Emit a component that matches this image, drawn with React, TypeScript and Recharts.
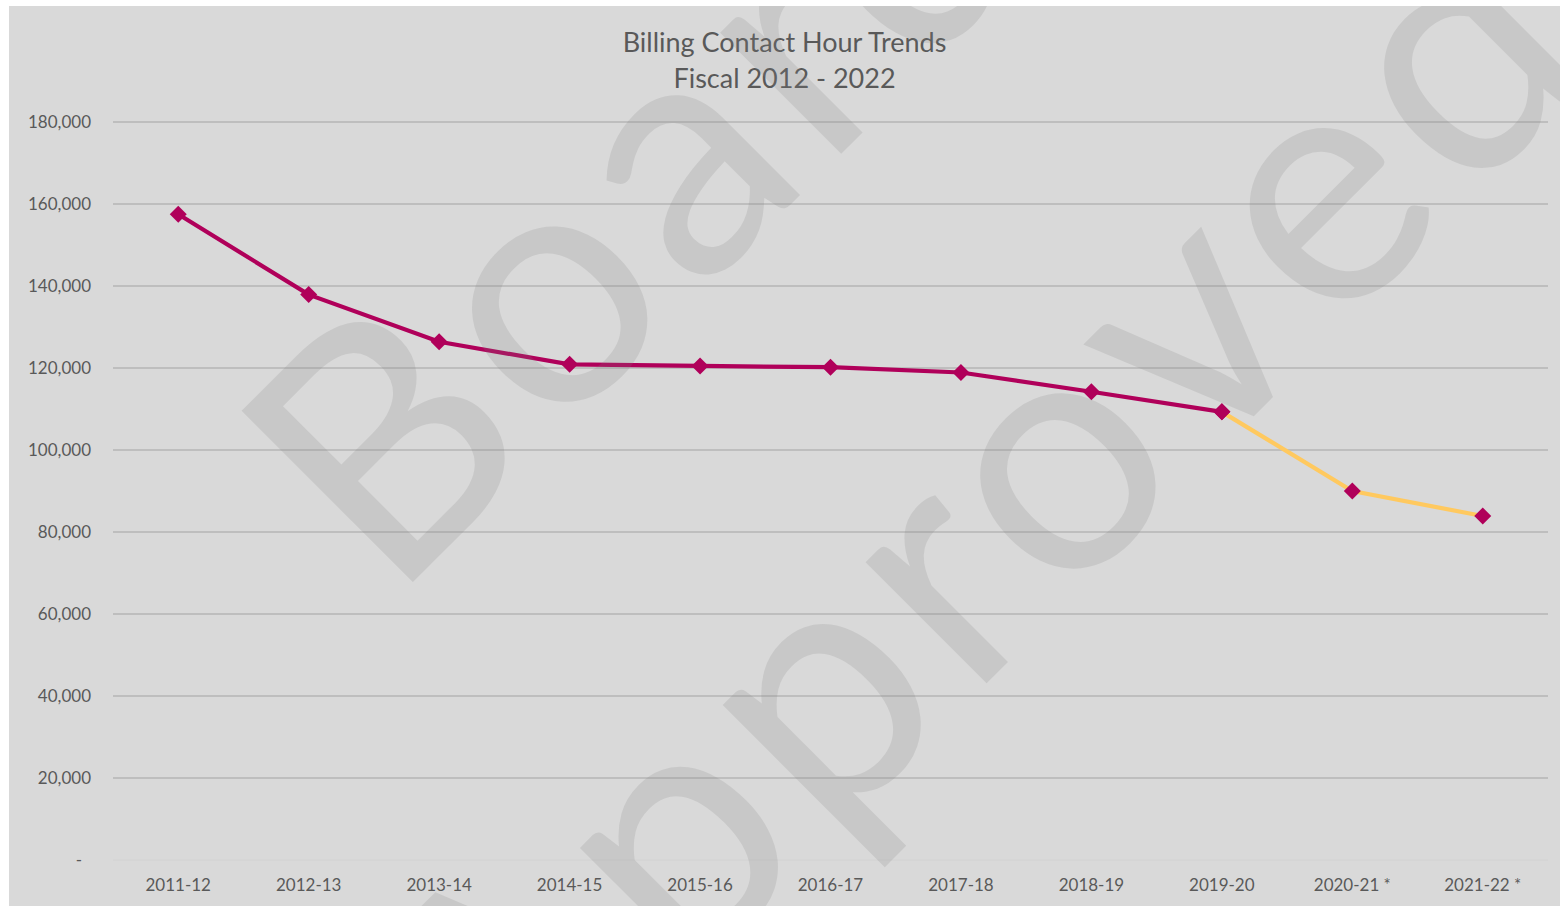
import React from "react";
import { LineChart, Line, XAxis, YAxis, CartesianGrid } from "recharts";

const categories = [
  "2011-12",
  "2012-13",
  "2013-14",
  "2014-15",
  "2015-16",
  "2016-17",
  "2017-18",
  "2018-19",
  "2019-20",
  "2020-21 *",
  "2021-22 *",
];

const actualHours: (number | null)[] = [
  157500, 137900, 126400, 120900, 120500, 120200, 118900, 114200, 109300, null, null,
];

const projectedHours: (number | null)[] = [
  null, null, null, null, null, null, null, null, 109300, 90000, 83900,
];

const yTicks = [0, 20000, 40000, 60000, 80000, 100000, 120000, 140000, 160000, 180000];
const gridValues = yTicks.filter((v) => v > 0);

const titleLines = ["Billing Contact Hour Trends", "Fiscal 2012 - 2022"];
const watermarkLines = ["Board", "Approved"];

const data = categories.map((name, i) => ({
  name,
  actual: actualHours[i],
  projected: projectedHours[i],
}));

const MAGENTA = "#B0005A";
const YELLOW = "#FFC95F";
const TEXT = "#595959";
const FONT = "Lato, 'Open Sans', sans-serif";

const Diamond = (props: any) => {
  const { cx, cy, value, index, dataKey } = props;
  if (cx == null || cy == null || value == null) return <g key={`${dataKey}-${index}`} />;
  const r = 8.5;
  return (
    <path
      key={`${dataKey}-${index}`}
      d={`M${cx},${cy - r}L${cx + r},${cy}L${cx},${cy + r}L${cx - r},${cy}Z`}
      fill={MAGENTA}
      stroke="none"
    />
  );
};

const YTick = (props: any) => {
  const { x, y, payload } = props;
  const v = payload.value;
  const label = v === 0 ? "-" : Number(v).toLocaleString("en-US");
  return (
    <text
      x={v === 0 ? x - 9 : x}
      y={y}
      dy="0.355em"
      textAnchor="end"
      fill={TEXT}
      fontSize={17}
      fontFamily={FONT}
    >
      {label}
    </text>
  );
};

export default function App() {
  const W = 1551;
  const H = 900;
  return (
    <div
      style={{
        position: "absolute",
        left: 9,
        top: 6,
        width: W,
        height: H,
        background: "#D9D9D9",
        overflow: "hidden",
        fontFamily: FONT,
      }}
    >
      <div
        style={{
          position: "absolute",
          left: 0,
          top: 18,
          width: W,
          textAlign: "center",
          color: TEXT,
          fontSize: 27,
          lineHeight: "36px",
          fontFamily: FONT,
        }}
      >
        {titleLines.map((t) => (
          <div key={t}>{t}</div>
        ))}
      </div>
      <div style={{ position: "absolute", left: 0, top: 0 }}>
        <LineChart
          width={W}
          height={H}
          data={data}
          margin={{ top: 116, right: 12, bottom: 0, left: 0 }}
        >
          <CartesianGrid
            vertical={false}
            horizontalValues={gridValues}
            stroke="#A3A3A3"
            strokeWidth={1.2}
          />
          <XAxis
            dataKey="name"
            height={46}
            padding={{ left: 65.25, right: 65.25 }}
            tickLine={false}
            axisLine={{ stroke: "#D2D2D2", strokeWidth: 1 }}
            tickSize={0}
            tickMargin={19}
            tick={{ fill: TEXT, fontSize: 17, fontFamily: FONT }}
            interval={0}
          />
          <YAxis
            width={104}
            domain={[0, 180000]}
            ticks={yTicks}
            tickLine={false}
            axisLine={false}
            tickSize={0}
            tickMargin={22}
            tick={<YTick />}
            interval={0}
          />
          <Line
            type="linear"
            dataKey="projected"
            stroke={YELLOW}
            strokeWidth={4.2}
            dot={<Diamond />}
            activeDot={false}
            isAnimationActive={false}
            connectNulls={false}
          />
          <Line
            type="linear"
            dataKey="actual"
            stroke={MAGENTA}
            strokeWidth={4.2}
            dot={<Diamond />}
            activeDot={false}
            isAnimationActive={false}
            connectNulls={false}
          />
        </LineChart>
      </div>
      <svg
        width={W}
        height={H}
        style={{ position: "absolute", left: 0, top: 0, pointerEvents: "none", overflow: "hidden" }}
      >
        <text
          x={382}
          y={598}
          transform="rotate(-45 382 598)"
          fontFamily={FONT}
          fontSize={338}
          textLength={931}
          lengthAdjust="spacing"
          fill="#808080"
          fillOpacity={0.19}
        >
          {watermarkLines[0]}
        </text>
        <text
          x={505}
          y={1150}
          transform="rotate(-45 505 1150)"
          fontFamily={FONT}
          fontSize={338}
          textLength={1535}
          lengthAdjust="spacing"
          fill="#808080"
          fillOpacity={0.19}
        >
          {watermarkLines[1]}
        </text>
      </svg>
    </div>
  );
}
